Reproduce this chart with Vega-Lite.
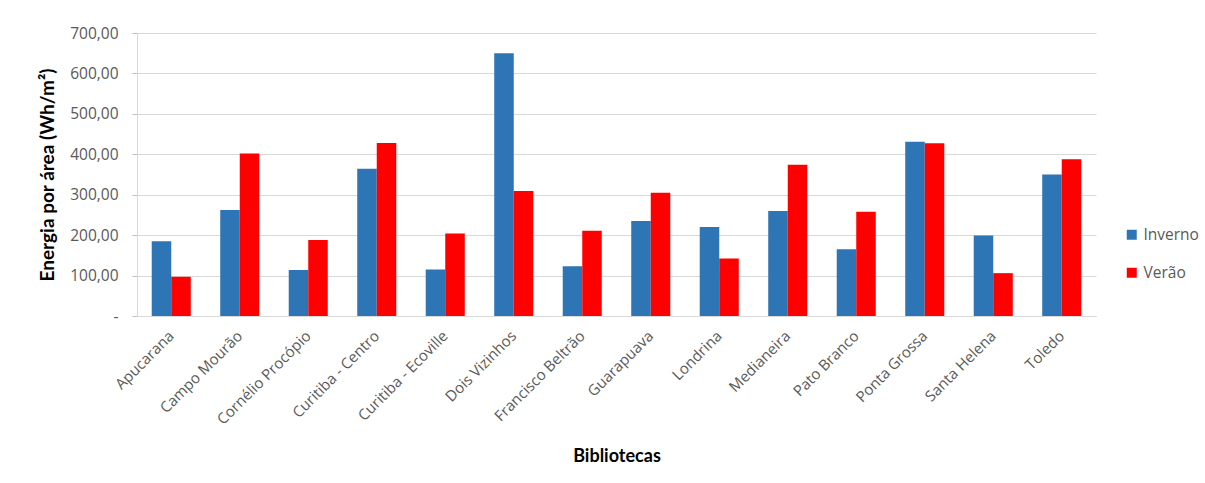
{
  "$schema": "https://vega.github.io/schema/vega-lite/v6.json",
  "width": 959,
  "height": 283,
  "autosize": {"type": "none"},
  "padding": {"left": 137, "top": 33, "right": 109, "bottom": 167},
  "background": "white",
  "config": {
    "view": {"stroke": null},
    "font": "Open Sans"
  },
  "data": {
    "values": [
      {"biblioteca": "Apucarana", "estacao": "Inverno", "valor": 185},
      {"biblioteca": "Apucarana", "estacao": "Verão", "valor": 97},
      {"biblioteca": "Campo Mourão", "estacao": "Inverno", "valor": 262},
      {"biblioteca": "Campo Mourão", "estacao": "Verão", "valor": 402},
      {"biblioteca": "Cornélio Procópio", "estacao": "Inverno", "valor": 114},
      {"biblioteca": "Cornélio Procópio", "estacao": "Verão", "valor": 188},
      {"biblioteca": "Curitiba - Centro", "estacao": "Inverno", "valor": 364},
      {"biblioteca": "Curitiba - Centro", "estacao": "Verão", "valor": 428},
      {"biblioteca": "Curitiba - Ecoville", "estacao": "Inverno", "valor": 115},
      {"biblioteca": "Curitiba - Ecoville", "estacao": "Verão", "valor": 204},
      {"biblioteca": "Dois Vizinhos", "estacao": "Inverno", "valor": 650},
      {"biblioteca": "Dois Vizinhos", "estacao": "Verão", "valor": 309},
      {"biblioteca": "Francisco Beltrão", "estacao": "Inverno", "valor": 123},
      {"biblioteca": "Francisco Beltrão", "estacao": "Verão", "valor": 211},
      {"biblioteca": "Guarapuava", "estacao": "Inverno", "valor": 235},
      {"biblioteca": "Guarapuava", "estacao": "Verão", "valor": 305},
      {"biblioteca": "Londrina", "estacao": "Inverno", "valor": 220},
      {"biblioteca": "Londrina", "estacao": "Verão", "valor": 142},
      {"biblioteca": "Medianeira", "estacao": "Inverno", "valor": 260},
      {"biblioteca": "Medianeira", "estacao": "Verão", "valor": 374},
      {"biblioteca": "Pato Branco", "estacao": "Inverno", "valor": 165},
      {"biblioteca": "Pato Branco", "estacao": "Verão", "valor": 258},
      {"biblioteca": "Ponta Grossa", "estacao": "Inverno", "valor": 431},
      {"biblioteca": "Ponta Grossa", "estacao": "Verão", "valor": 427},
      {"biblioteca": "Santa Helena", "estacao": "Inverno", "valor": 199},
      {"biblioteca": "Santa Helena", "estacao": "Verão", "valor": 106},
      {"biblioteca": "Toledo", "estacao": "Inverno", "valor": 350},
      {"biblioteca": "Toledo", "estacao": "Verão", "valor": 388}
    ]
  },
  "mark": {"type": "bar"},
  "encoding": {
    "x": {
      "field": "biblioteca",
      "type": "nominal",
      "sort": null,
      "scale": {"paddingInner": 0.43, "paddingOuter": 0.215},
      "axis": {
        "title": "Bibliotecas",
        "titleFont": "Lato",
        "titleFontWeight": "bold",
        "titleFontSize": 18,
        "titleColor": "#000000",
        "titleY": 140,
        "titleBaseline": "middle",
        "labelAngle": -45,
        "labelAlign": "right",
        "labelBaseline": "middle",
        "labelFont": "Open Sans",
        "labelFontSize": 15,
        "labelColor": "#595959",
        "labelPadding": 17,
        "labelOverlap": false,
        "ticks": false,
        "domainColor": "#d9d9d9",
        "domainWidth": 1
      }
    },
    "xOffset": {"field": "estacao", "type": "nominal", "sort": ["Inverno", "Verão"], "scale": {"paddingInner": 0, "paddingOuter": 0}},
    "y": {
      "field": "valor",
      "type": "quantitative",
      "scale": {"domain": [0, 700], "nice": false},
      "axis": {
        "title": "Energia por área (Wh/m²)",
        "titleFont": "Lato",
        "titleFontWeight": "bold",
        "titleFontSize": 19,
        "titleColor": "#000000",
        "titlePadding": 12,
        "values": [0, 100, 200, 300, 400, 500, 600, 700],
        "labelExpr": "datum.value == 0 ? '-' : replace(format(datum.value, '.2f'), '.', ',')",
        "labelFont": "Open Sans",
        "labelFontSize": 15.5,
        "labelColor": "#595959",
        "labelPadding": 14,
        "labelOverlap": false,
        "labelFlush": false,
        "ticks": true,
        "tickSize": 5,
        "tickColor": "#bfbfbf",
        "domain": true,
        "domainColor": "#d9d9d9",
        "gridColor": "#d9d9d9",
        "gridWidth": 1
      }
    },
    "color": {
      "field": "estacao",
      "type": "nominal",
      "sort": ["Inverno", "Verão"],
      "scale": {"domain": ["Inverno", "Verão"], "range": ["#2E75B6", "#FF0000"]},
      "legend": {
        "title": null,
        "orient": "none",
        "legendX": 987,
        "legendY": 194,
        "symbolType": "square",
        "symbolSize": 100,
        "symbolStrokeWidth": 0,
        "labelFont": "Open Sans",
        "labelFontSize": 15.5,
        "labelColor": "#595959",
        "rowPadding": 21,
        "labelOffset": 4
      }
    }
  }
}
